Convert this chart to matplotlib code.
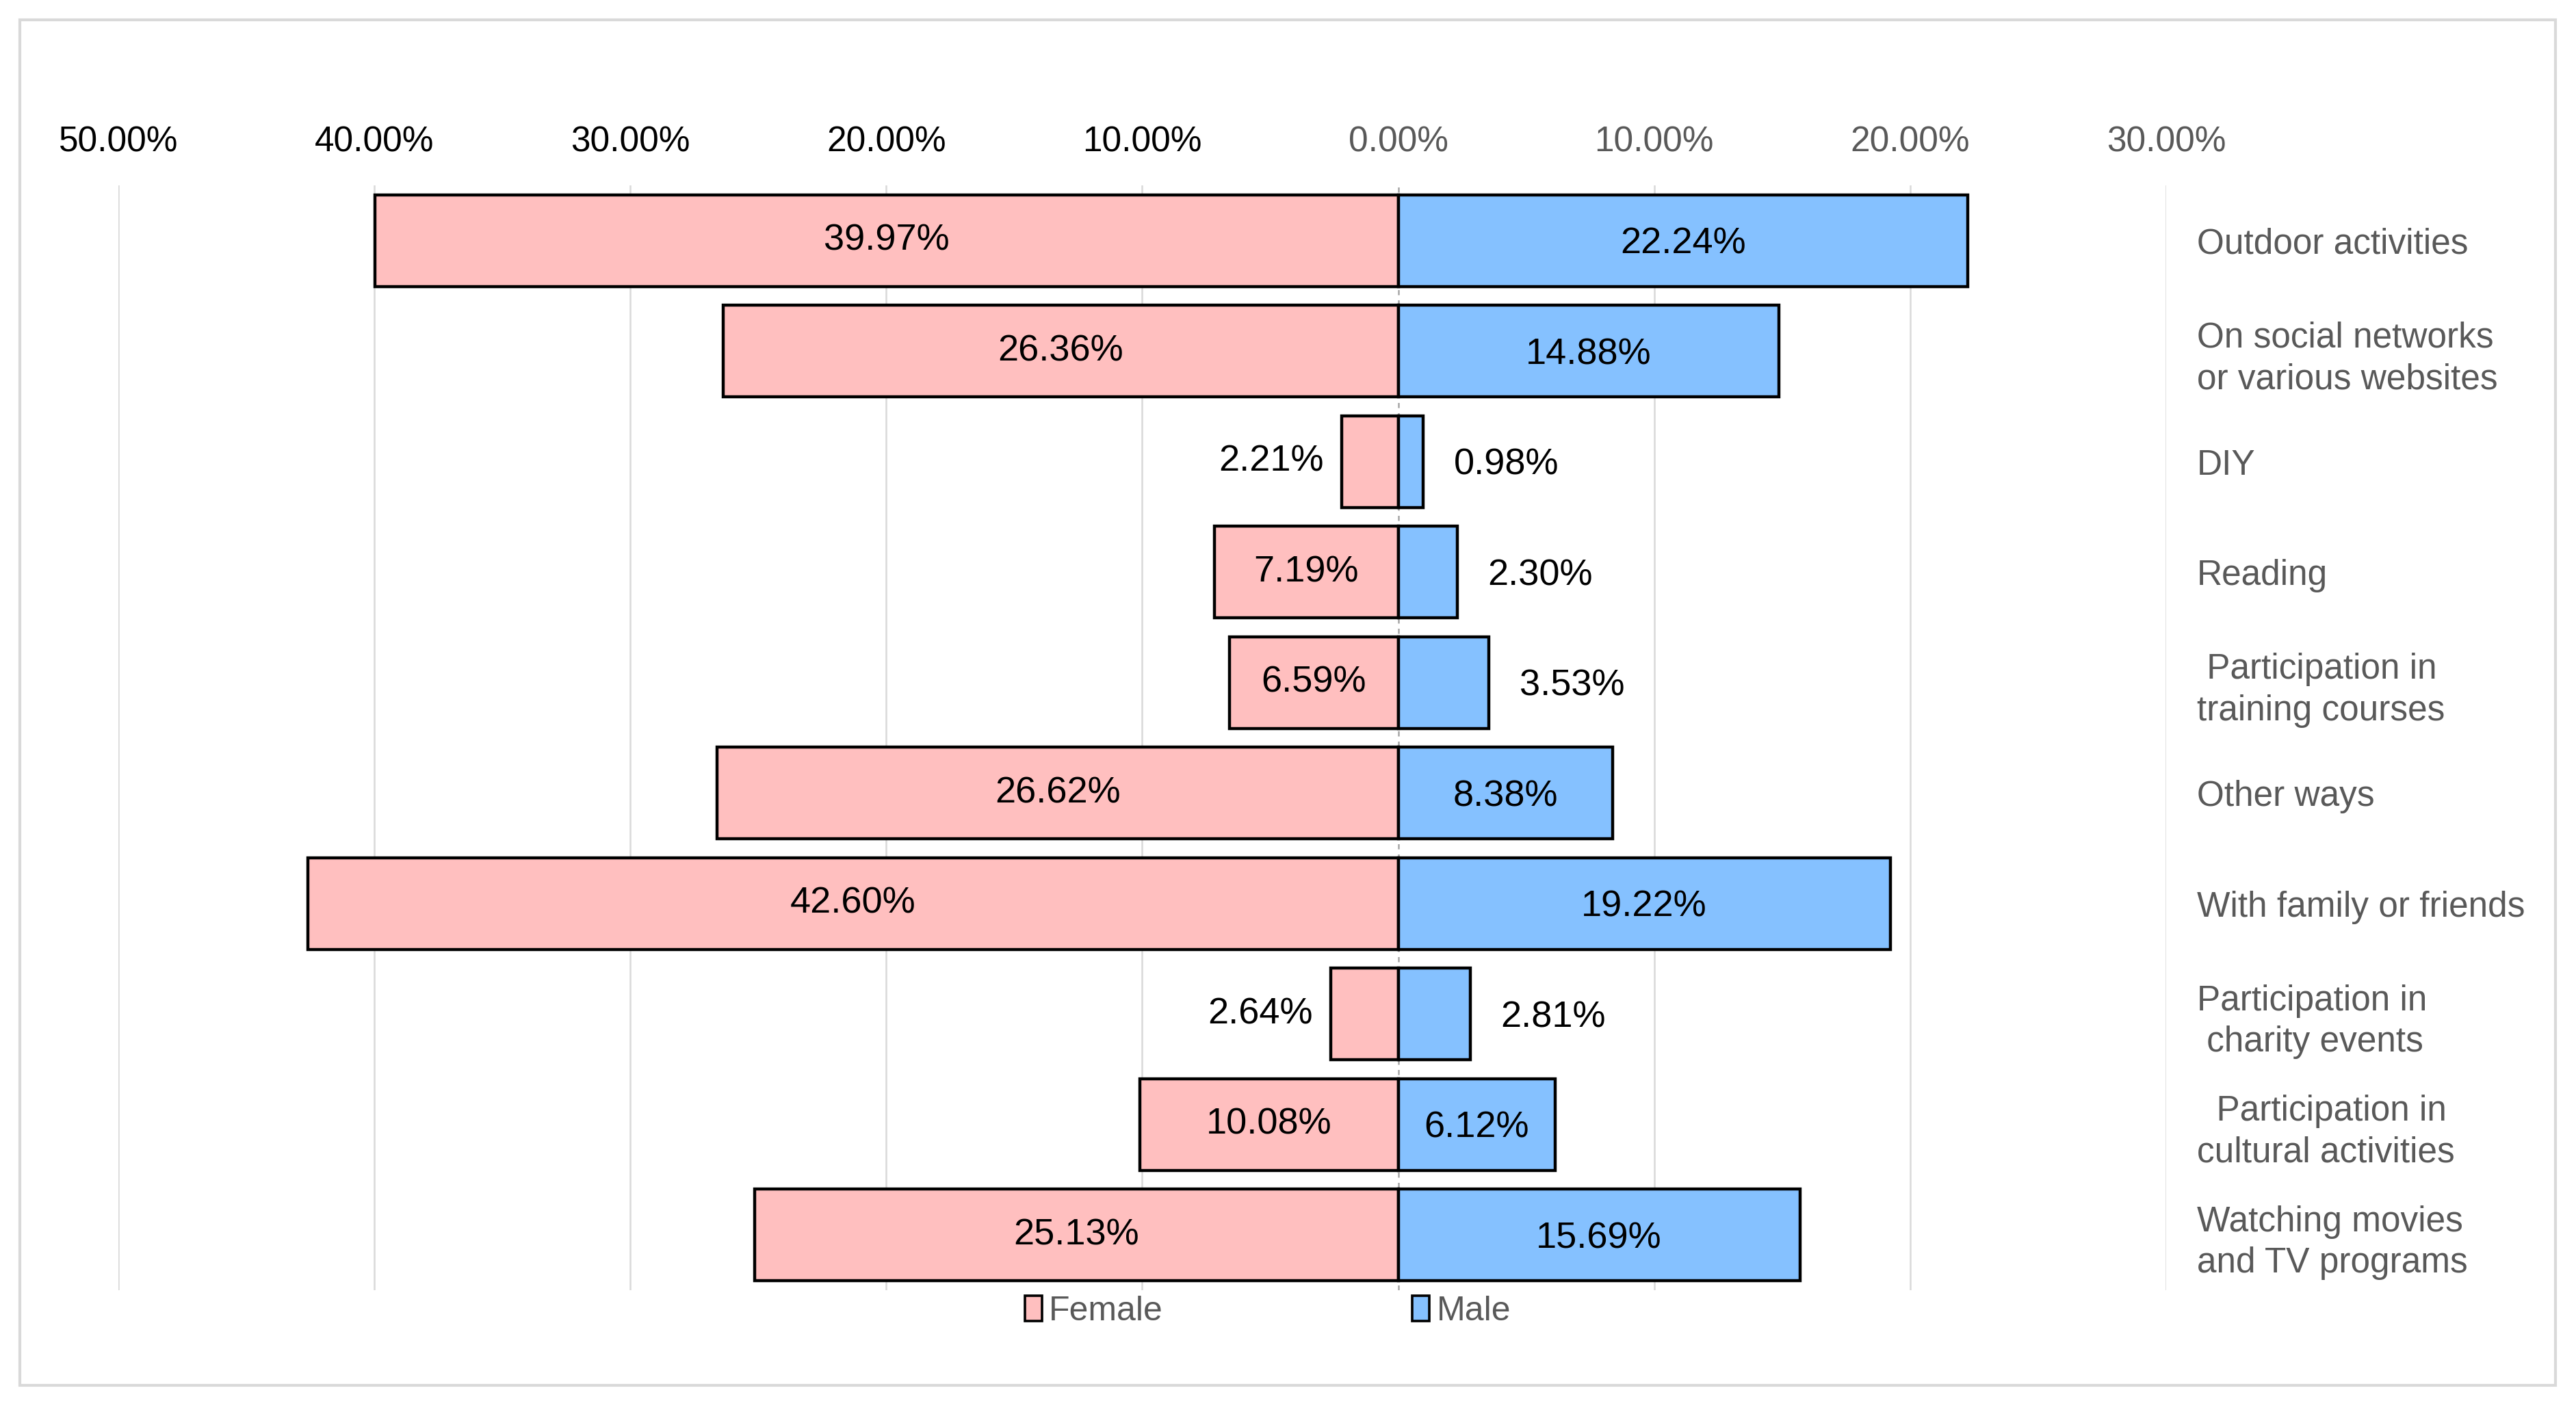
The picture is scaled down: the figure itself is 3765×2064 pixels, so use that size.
"""
Leisure activities by gender - back-to-back horizontal bar chart
"""
import matplotlib
matplotlib.use('Agg')
import matplotlib.pyplot as plt
from matplotlib.patches import Patch, Rectangle
import numpy as np

plt.rcParams['font.family'] = ['Liberation Sans', 'DejaVu Sans']

# data, top to bottom
categories = [
    'Outdoor activities',
    'On social networks\nor various websites',
    'DIY',
    'Reading',
    ' Participation in\ntraining courses',
    'Other ways',
    'With family or friends',
    'Participation in\n charity events',
    '  Participation in\ncultural activities',
    'Watching movies\nand TV programs',
]
female = [39.97, 26.36, 2.21, 7.19, 6.59, 26.62, 42.60, 2.64, 10.08, 25.13]
male = [22.24, 14.88, 0.98, 2.30, 3.53, 8.38, 19.22, 2.81, 6.12, 15.69]
x_ticks = [-50, -40, -30, -20, -10, 0, 10, 20, 30]

FEMALE_COLOR = '#FFBFBF'
MALE_COLOR = '#85C1FF'
GRAY_TEXT = '#595959'
GRID_COLOR = '#D9D9D9'

fig = plt.figure(figsize=(18.83, 10.32), dpi=200, facecolor='white')
ax = fig.add_axes([0.0459, 0.0862, 0.7948, 0.7825])

y = np.arange(len(categories))
female_vals = np.array(female)
male_vals = np.array(male)

# vertical gridlines, the zero line is dashed
for t in x_ticks:
    if t == 0:
        ax.axvline(t, color='#A6A6A6', linewidth=0.9, linestyle=(0, (3, 3)), zorder=1)
    else:
        ax.axvline(t, color=GRID_COLOR, linewidth=0.9, zorder=0)

ax.barh(y, -female_vals, height=0.83, color=FEMALE_COLOR, edgecolor='black',
        linewidth=1.6, zorder=2)
ax.barh(y, male_vals, height=0.83, color=MALE_COLOR, edgecolor='black',
        linewidth=1.6, zorder=2)

# value labels: inside the bar when wide enough, otherwise just outside
for i in range(len(categories)):
    f = female_vals[i]
    m = male_vals[i]
    if f >= 4:
        ax.text(-f / 2, i, f'{f:.2f}%', ha='center', va='center', fontsize=19.5, color='black', zorder=3)
    else:
        ax.text(-f - 0.7, i, f'{f:.2f}%', ha='right', va='center', fontsize=19.5, color='black', zorder=3)
    if m >= 4:
        ax.text(m / 2, i + 0.03, f'{m:.2f}%', ha='center', va='center', fontsize=19.5, color='black', zorder=3)
    else:
        ax.text(m + 1.2, i + 0.03, f'{m:.2f}%', ha='left', va='center', fontsize=19.5, color='black', zorder=3)

ax.set_xlim(-50, 30)
ax.set_ylim(len(categories) - 0.5, -0.5)

# percent ticks on top, shown as absolute values
ax.xaxis.tick_top()
ax.set_xticks(x_ticks)
ax.set_xticklabels([f'{abs(t):.2f}%' for t in x_ticks], fontsize=18.5)
for t, lbl in zip(x_ticks, ax.get_xticklabels()):
    lbl.set_color('black' if t < 0 else GRAY_TEXT)
ax.tick_params(axis='x', length=0, pad=14)

# category names on the right
ax.yaxis.tick_right()
ax.set_yticks(y)
ax.set_yticklabels(categories, fontsize=18.5, color=GRAY_TEXT, ha='left', linespacing=1.3)
ax.tick_params(axis='y', length=0, pad=16)

for spine in ax.spines.values():
    spine.set_visible(False)

handles = [
    Patch(facecolor=FEMALE_COLOR, edgecolor='black', linewidth=1.3, label='Female'),
    Patch(facecolor=MALE_COLOR, edgecolor='black', linewidth=1.3, label='Male'),
]
leg = fig.legend(handles=handles, loc='center', bbox_to_anchor=(0.492, 0.0712), ncol=2,
                 frameon=False, fontsize=18, handlelength=0.5, handleheight=0.75,
                 handletextpad=0.2, columnspacing=7.3)
for txt in leg.get_texts():
    txt.set_color(GRAY_TEXT)

# outer chart frame
fig.patches.append(Rectangle((0.0077, 0.0189), 0.9841, 0.9671, transform=fig.transFigure,
                             fill=False, edgecolor=GRID_COLOR, linewidth=1.5))

fig.savefig('out.png', dpi=200, facecolor='white')
plt.close(fig)
